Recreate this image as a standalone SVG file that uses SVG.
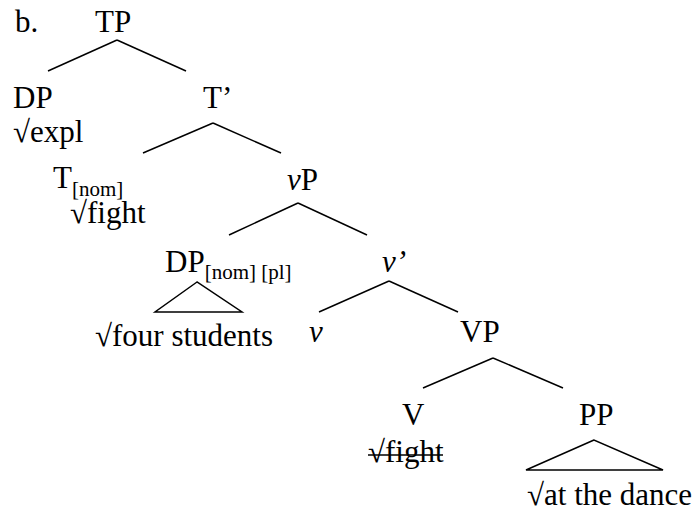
<svg xmlns="http://www.w3.org/2000/svg" width="697" height="513" viewBox="0 0 697 513" font-family="Liberation Serif, DejaVu Serif, serif" font-size="31">
<style>
text{font-family:'Liberation Serif','DejaVu Serif',serif;fill:#000}
.sub{font-size:21px}
.it{font-style:italic}
line,polygon{stroke:#000;stroke-width:1.5;fill:none}
</style>
<rect width="697" height="513" fill="#fff"/>
<text x="15" y="32">b.</text>
<g id="connectors">
<line x1="117" y1="40" x2="48" y2="71"/>
<line x1="117" y1="40" x2="186" y2="71"/>
<line x1="213" y1="123" x2="143" y2="153"/>
<line x1="213" y1="123" x2="281" y2="153"/>
<line x1="298" y1="203" x2="229" y2="235"/>
<line x1="298" y1="203" x2="367" y2="235"/>
<line x1="389" y1="281" x2="319" y2="312"/>
<line x1="389" y1="281" x2="458" y2="312"/>
<line x1="493" y1="358" x2="423" y2="388"/>
<line x1="493" y1="358" x2="563" y2="388"/>
</g>
<g id="TP"><text x="95" y="32">TP</text></g>
<g id="DP"><text x="13" y="108">DP</text><text x="13" y="142">√expl</text></g>
<g id="Tbar"><text x="203" y="108">T’</text></g>
<g id="T"><text x="53" y="188">T<tspan class="sub" dy="8">[nom]</tspan></text><text x="70" y="223">√fight</text></g>
<g id="vP"><text x="287" y="190"><tspan class="it">v</tspan>P</text></g>
<g id="DP2"><text x="165" y="272">DP<tspan class="sub" dy="7">[nom] [pl]</tspan></text>
<polygon points="197,282 155,312 242,312"/>
<text x="95" y="346">√four students</text></g>
<g id="vbar"><text x="382" y="272" class="it">v’</text></g>
<g id="v"><text x="309" y="342" class="it">v</text></g>
<g id="VP"><text x="460" y="342">VP</text></g>
<g id="V"><text x="402" y="425">V</text><text x="368" y="462">√fight</text><line x1="368" y1="455" x2="443" y2="455"/></g>
<g id="PP"><text x="579" y="425">PP</text>
<polygon points="594,440 526,470 663,470"/>
<text x="527" y="505">√at the dance</text></g>
</svg>
